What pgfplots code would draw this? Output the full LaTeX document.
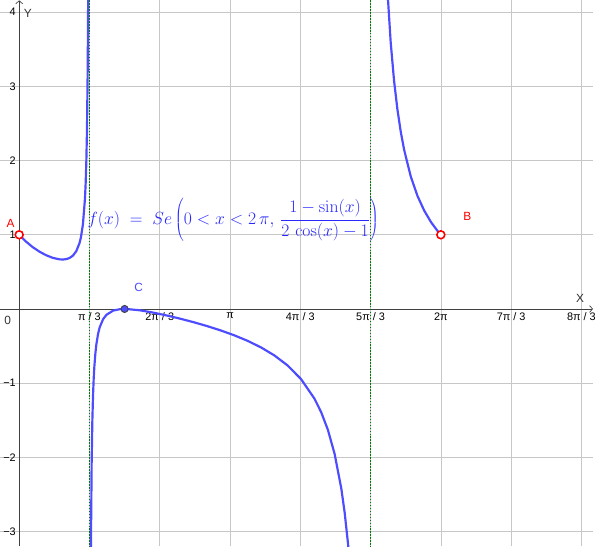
\documentclass[border=0pt]{standalone}
\usepackage[no-math]{fontspec}
\setmainfont{Liberation Sans}
\usepackage{pgfplots}
\pgfplotsset{compat=1.18}
\usetikzlibrary{arrows.meta}
\definecolor{ggblue}{RGB}{77,77,255}
\definecolor{ggtext}{RGB}{40,40,255}
\definecolor{gggreen}{RGB}{0,125,0}
\definecolor{ggred}{RGB}{255,0,0}
\begin{document}
\begin{tikzpicture}
\begin{axis}[
  width=599pt, height=552pt, scale only axis,
  xmin=-0.28, xmax=8.55, ymin=-3.2, ymax=4.16,
  axis lines=middle,
  axis line style={black!75, line width=0.7pt, -{Straight Barb[length=3pt,width=7pt]}},
  xtick={1.0472,2.0944,3.1416,4.1888,5.2360,6.2832,7.3304,8.3776},
  xticklabels={π / 3,2π / 3,π,4π / 3,5π / 3,2π,7π / 3,8π / 3},
  ytick={-3,-2,-1,1,2,3,4},
  yticklabels={−3,−2,−1,1,2,3,4},
  major tick length=0pt,
  grid=major, grid style={black!22, line width=0.6pt},
  tick label style={font=\fontsize{11}{13}\selectfont},
  clip=true,
]
% f(x) = (1 - sin x)/(2 cos x - 1) on 0 < x < 2pi, values worked out by hand
\addplot[ggblue, line width=2.2pt] coordinates {
(0,1.0000) (0.1,0.9093) (0.2,0.8346) (0.3,0.7736) (0.4,0.7251) (0.5,0.6893)
(0.6,0.6691) (0.65,0.6667) (0.7,0.6717) (0.75,0.6870) (0.8,0.7184) (0.85,0.7773)
(0.9,0.8908) (0.92,0.9658) (0.95,1.1421) (0.98,1.4863) (0.99,1.6838) (1.0,1.9669)
(1.01,2.4038) (1.02,3.164) (1.025,3.803) (1.0288,4.347) (1.03,4.814)
};
\addplot[ggblue, line width=2.2pt] coordinates {
(1.0672,-3.5636) (1.07,-3.089) (1.08,-2.0586) (1.09,-1.5112) (1.1,-1.1723)
(1.11,-0.9425) (1.12,-0.7766) (1.135,-0.6002) (1.15,-0.4767) (1.175,-0.3377)
(1.2,-0.2469) (1.25,-0.1381) (1.3,-0.0784) (1.4,-0.0220) (1.5,-0.0029)
(1.5708,0) (1.6,-0.0004) (1.8,-0.0180) (2.0,-0.0495) (2.2,-0.0880) (2.4,-0.1311)
(2.6,-0.1785) (2.8,-0.2306) (3.0,-0.2882) (3.2,-0.3532) (3.4,-0.4280) (3.6,-0.5164)
(3.8,-0.6243) (4.0,-0.7614) (4.2,-0.9450) (4.4,-1.2087) (4.5,-1.3911) (4.6,-1.6284)
(4.7,-1.9516) (4.8,-2.4196) (4.85,-2.7431) (4.9,-3.1620) (4.92,-3.3662)
};
\addplot[ggblue, line width=2.2pt] coordinates {
(5.436,5.3967) (5.456,4.9057) (5.486,4.3163) (5.536,3.5951) (5.586,3.0791)
(5.636,2.6915) (5.686,2.3895) (5.736,2.1474) (5.836,1.7832) (5.936,1.5219)
(6.036,1.3253) (6.136,1.1720) (6.236,1.0495) (6.2832,1.0000)
};
% asymptotes
\addplot[gggreen, line width=1.5pt, dash pattern=on 1.6pt off 1.4pt] coordinates {(1.0472,-3.3) (1.0472,4.3)};
\addplot[gggreen, line width=1.5pt, dash pattern=on 1.6pt off 1.4pt] coordinates {(5.2360,-3.3) (5.2360,4.3)};
% points
\addplot[only marks, mark=*, mark size=4pt, mark options={draw=ggred, fill=white, line width=1.6pt}] coordinates {(0,1) (6.2832,1)};
\addplot[only marks, mark=*, mark size=3.6pt, mark options={draw=black!75, fill=ggblue, line width=0.9pt}] coordinates {(1.5708,0)};
\node[font=\fontsize{12}{14}\selectfont, text=ggred] at (axis cs:-0.13,1.15) {A};
\node[font=\fontsize{12}{14}\selectfont, text=ggred] at (axis cs:6.68,1.25) {B};
\node[font=\fontsize{12}{14}\selectfont, text=ggblue] at (axis cs:1.78,0.29) {C};
\node[font=\fontsize{12}{14}\selectfont, black!80] at (axis cs:-0.17,-0.15) {0};
\node[font=\fontsize{12}{14}\selectfont, black!80] at (axis cs:8.36,0.14) {X};
\node[font=\fontsize{12}{14}\selectfont, black!80] at (axis cs:0.13,3.99) {Y};
\node[anchor=west, inner sep=0pt, text=ggtext, font=\fontsize{17.28}{21}\selectfont, scale=1.03, transform shape] at (axis cs:1.015,1.2)
  {$f(x) \;=\; Se\left(0<x<2\,\pi,\,\displaystyle\frac{1-\sin(x)}{2\,\cos(x)-1}\right)$};
\end{axis}
\end{tikzpicture}
\end{document}
